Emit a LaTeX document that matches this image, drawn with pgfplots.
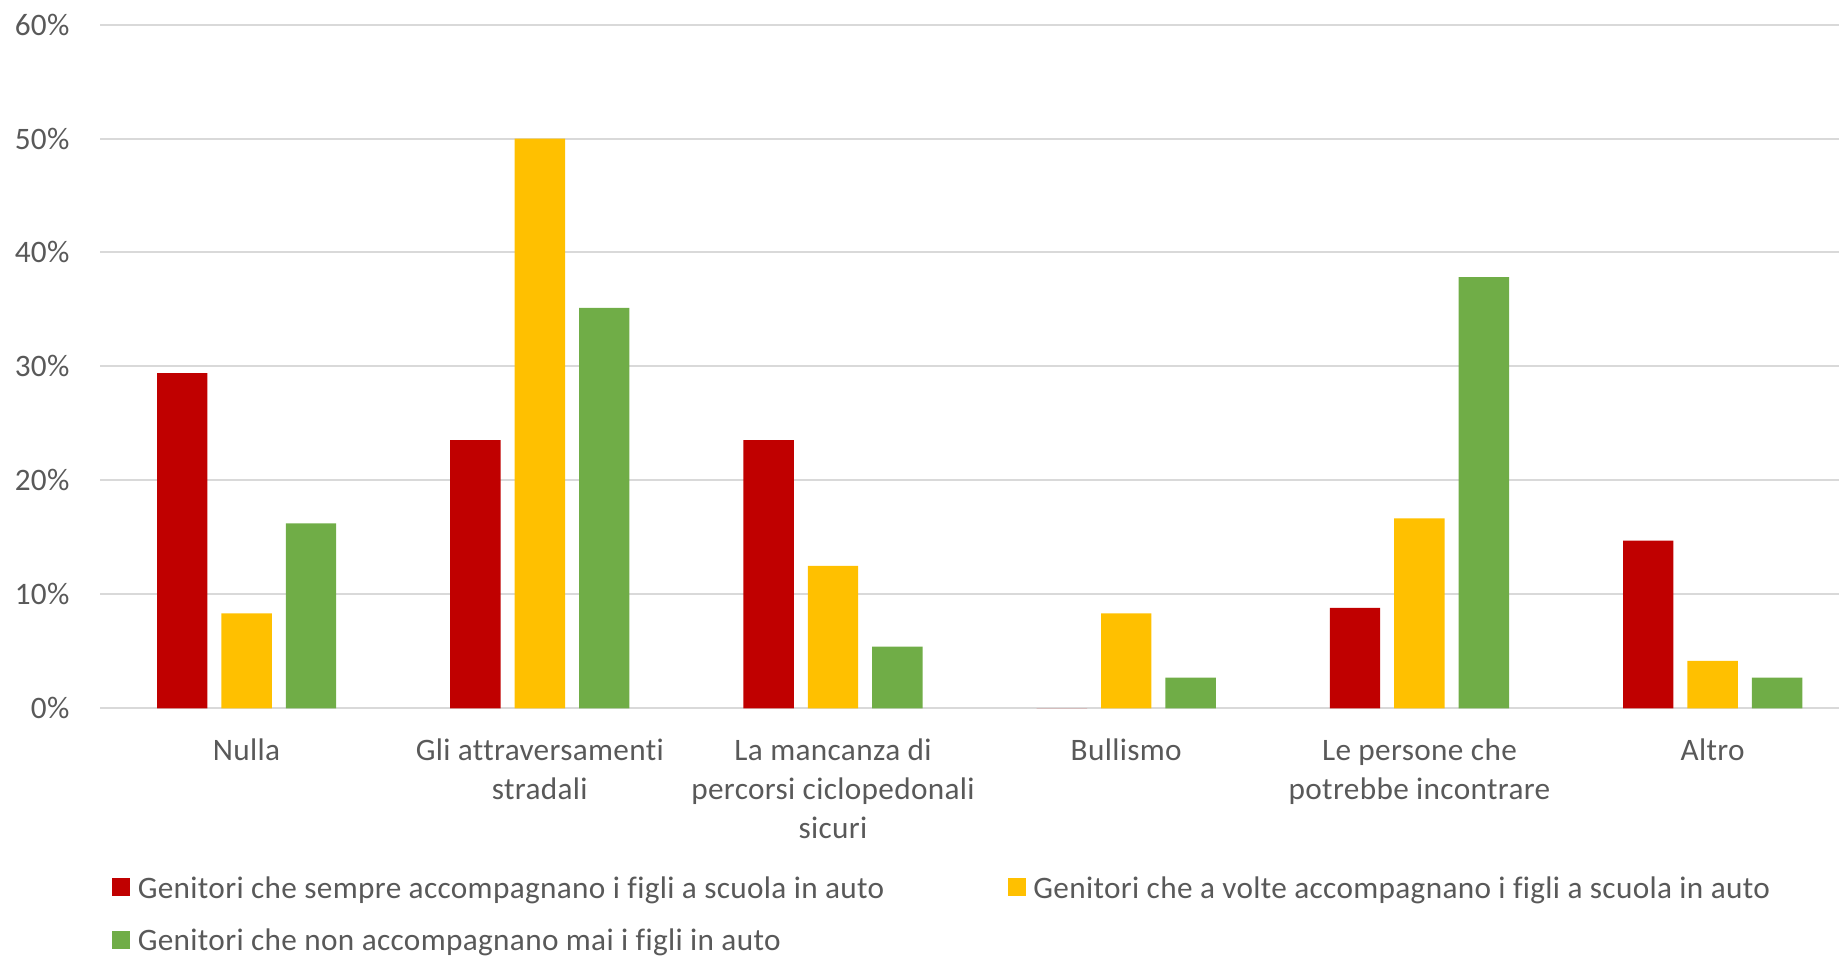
\documentclass[border=0pt]{standalone}
\usepackage{fontspec}
\setmainfont{Carlito}[Ligatures={NoCommon}, LetterSpace=1.1]
\usepackage{pgfplots}
\pgfplotsset{compat=1.18}
\definecolor{cred}{HTML}{C00000}
\definecolor{cyellow}{HTML}{FFC000}
\definecolor{cgreen}{HTML}{70AD47}
\definecolor{cgrid}{HTML}{D9D9D9}
\definecolor{ctext}{HTML}{595959}
\begin{document}
\begin{tikzpicture}
\path[use as bounding box] (0,0) rectangle (735.6pt,382.8pt);
\begin{axis}[
  at={(40pt,99.48pt)}, anchor=south west,
  scale only axis, width=695.6pt, height=273.5pt,
  xmin=-0.5, xmax=5.431, ymin=0, ymax=60,
  ybar=5.6pt, bar width=20.16pt,
  xtick={0,...,5},
  xticklabels={Nulla,{Gli attraversamenti\\stradali},{La mancanza di\\percorsi ciclopedonali\\sicuri},Bullismo,{Le persone che\\potrebbe incontrare},Altro},
  ytick={0,10,...,60},
  yticklabels={0\%,10\%,20\%,30\%,40\%,50\%,60\%},
  ymajorgrids, grid style={cgrid, line width=0.8pt},
  axis line style={draw=none},
  major tick length=0pt,
  tick label style={font=\fontsize{12.5}{15.5}\selectfont, text=ctext},
  yticklabel style={anchor=east, inner sep=0pt, xshift=-12pt},
  xticklabel style={anchor=north, align=center, inner sep=0pt, yshift=-12.1pt},
  legend columns=2,
  legend cell align=left,
  legend style={at={(axis description cs:0,0)}, anchor=north west, xshift=4.8pt, yshift=-66.9pt,
    draw=none, inner sep=0pt, outer sep=0pt, row sep=9.0pt,
    font=\fontsize{12.5}{15}\selectfont, text=ctext,
    nodes={inner sep=0pt, text height=9pt, text depth=3pt},
    /tikz/every odd column/.append style={column sep=3.1pt},
    /tikz/every even column/.append style={column sep=49.3pt}},
]
\addplot[fill=cred, draw=none, legend image code/.code={\fill[cred] (0pt,-2.2pt) rectangle (7.2pt,5pt);}]
  coordinates {(0,29.41) (1,23.53) (2,23.53) (3,0) (4,8.82) (5,14.71)};
\addplot[fill=cyellow, draw=none, legend image code/.code={\fill[cyellow] (0pt,-2.2pt) rectangle (7.2pt,5pt);}]
  coordinates {(0,8.33) (1,50.0) (2,12.5) (3,8.33) (4,16.67) (5,4.17)};
\addplot[fill=cgreen, draw=none, legend image code/.code={\fill[cgreen] (0pt,-2.2pt) rectangle (7.2pt,5pt);}]
  coordinates {(0,16.22) (1,35.14) (2,5.41) (3,2.70) (4,37.84) (5,2.70)};
\legend{Genitori che sempre accompagnano i figli a scuola in auto,
        Genitori che a volte accompagnano i figli a scuola in auto,
        Genitori che non accompagnano mai i figli in auto}
\end{axis}
\end{tikzpicture}
\end{document}
